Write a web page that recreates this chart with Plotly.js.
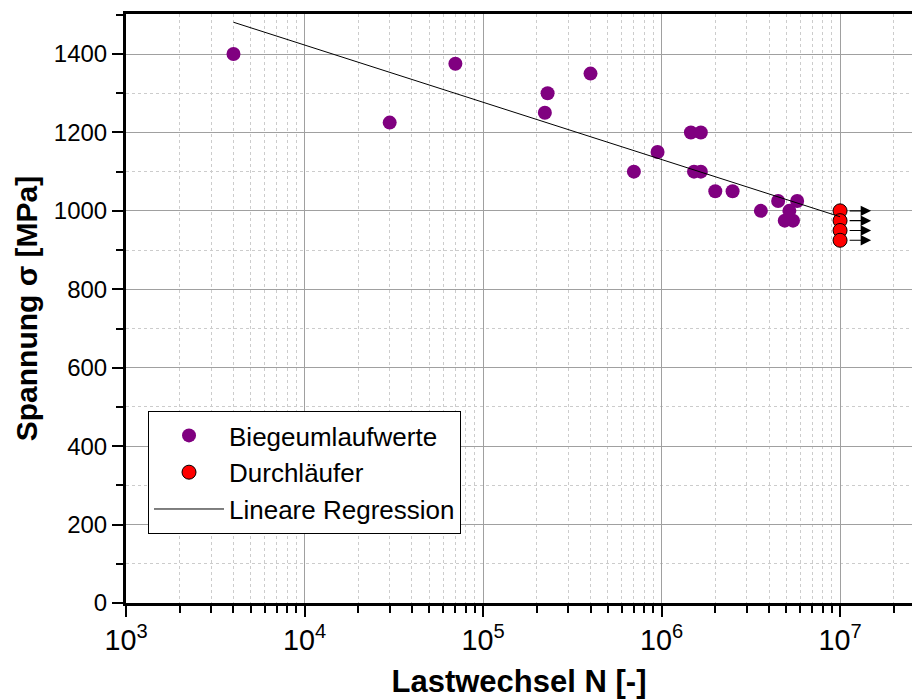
<!DOCTYPE html>
<html><head><meta charset="utf-8">
<script src="https://cdn.plot.ly/plotly-3.0.1.min.js"></script>
<style>html,body{margin:0;padding:0;background:#fff}</style>
</head><body><div id="chart" style="width:913px;height:699px"></div>
<script>
// Biegeumlaufwerte (load cycles N, stress in MPa)
const bieN = [4000, 30000, 70000, 222000, 230000, 400000, 700000, 950000, 1460000, 1660000, 1520000, 1660000, 2000000, 2500000, 3600000, 4500000, 5750000, 5200000, 4900000, 5450000];
const bieS = [1400, 1225, 1375, 1250, 1300, 1350, 1100, 1150, 1200, 1200, 1100, 1100, 1050, 1050, 1000, 1025, 1025, 1000, 975, 975];
// Durchläufer (run-outs)
const durN = [1e7, 1e7, 1e7, 1e7];
const durS = [1000, 975, 950, 925];
// Lineare Regression endpoints
const regN = [4000, 1e7];
const regS = [1481, 985];

const FONT = 'Liberation Sans, Arial, sans-serif';

const traces = [
  {x: bieN, y: bieS, type: 'scatter', mode: 'markers', name: 'Biegeumlaufwerte',
   marker: {color: '#800080', size: 14}, legendgroup: 'a'},
  {x: durN, y: durS, type: 'scatter', mode: 'markers', name: 'Durchläufer',
   marker: {color: '#ff0000', size: 14, line: {color: '#000', width: 1}}, legendgroup: 'b'},
  {x: regN, y: regS, type: 'scatter', mode: 'lines', name: 'Lineare Regression',
   line: {color: '#000', width: 1}, legendgroup: 'c'}
];

const arrows = durN.map((n, i) => ({
  x: Math.log10(n) + 0.174, y: durS[i], xref: 'x', yref: 'y',
  ax: -23, ay: 0, axref: 'pixel', ayref: 'pixel',
  text: '', showarrow: true, arrowhead: 2, arrowsize: 1.9, arrowwidth: 1.1, arrowcolor: '#000'
}));

const layout = {
  width: 913, height: 699,
  margin: {l: 126, r: 1, t: 14, b: 96},
  paper_bgcolor: '#fff', plot_bgcolor: '#fff',
  font: {family: FONT, color: '#000', size: 22},
  showlegend: true,
  legend: {x: 0.028, y: 0.326, xanchor: 'left', yanchor: 'top',
    bgcolor: '#fff', bordercolor: '#000', borderwidth: 1,
    font: {family: FONT, size: 26, color: '#000'},
    itemwidth: 70,
    traceorder: 'grouped', tracegroupgap: 0},
  xaxis: {
    type: 'log', range: [3, 7.403], dtick: 1, exponentformat: 'power',
    ticks: 'outside', ticklen: 11, tickwidth: 2, tickcolor: '#000',
    showline: true, linecolor: '#000', linewidth: 3, mirror: true,
    showgrid: true, gridcolor: '#a0a0a0', gridwidth: 1, zeroline: false,
    tickfont: {family: FONT, size: 23, color: '#000'},
    minor: {dtick: 'D1', ticks: 'outside', ticklen: 7, tickwidth: 2, tickcolor: '#000',
      showgrid: true, gridcolor: '#cccccc', griddash: 'dot', gridwidth: 1},
    title: {text: '<b>Lastwechsel N [-]</b>', font: {family: FONT, size: 31, color: '#000'}, standoff: 20},
    automargin: false
  },
  yaxis: {
    range: [0, 1502], tick0: 0, dtick: 200,
    ticks: 'outside', ticklen: 11, tickwidth: 2, tickcolor: '#000',
    showline: true, linecolor: '#000', linewidth: 3, mirror: false,
    showgrid: true, gridcolor: '#a0a0a0', gridwidth: 1, zeroline: false,
    tickfont: {family: FONT, size: 24, color: '#000'},
    minor: {dtick: 100, ticks: 'outside', ticklen: 7, tickwidth: 2, tickcolor: '#000',
      showgrid: true, gridcolor: '#cccccc', griddash: 'dot', gridwidth: 1},
    title: {text: '<b>Spannung σ [MPa]</b>', font: {family: FONT, size: 30, color: '#000'}, standoff: 8},
    automargin: false
  },
  annotations: arrows
};

Plotly.newPlot('chart', traces, layout, {displayModeBar: false, staticPlot: true});
</script></body></html>
